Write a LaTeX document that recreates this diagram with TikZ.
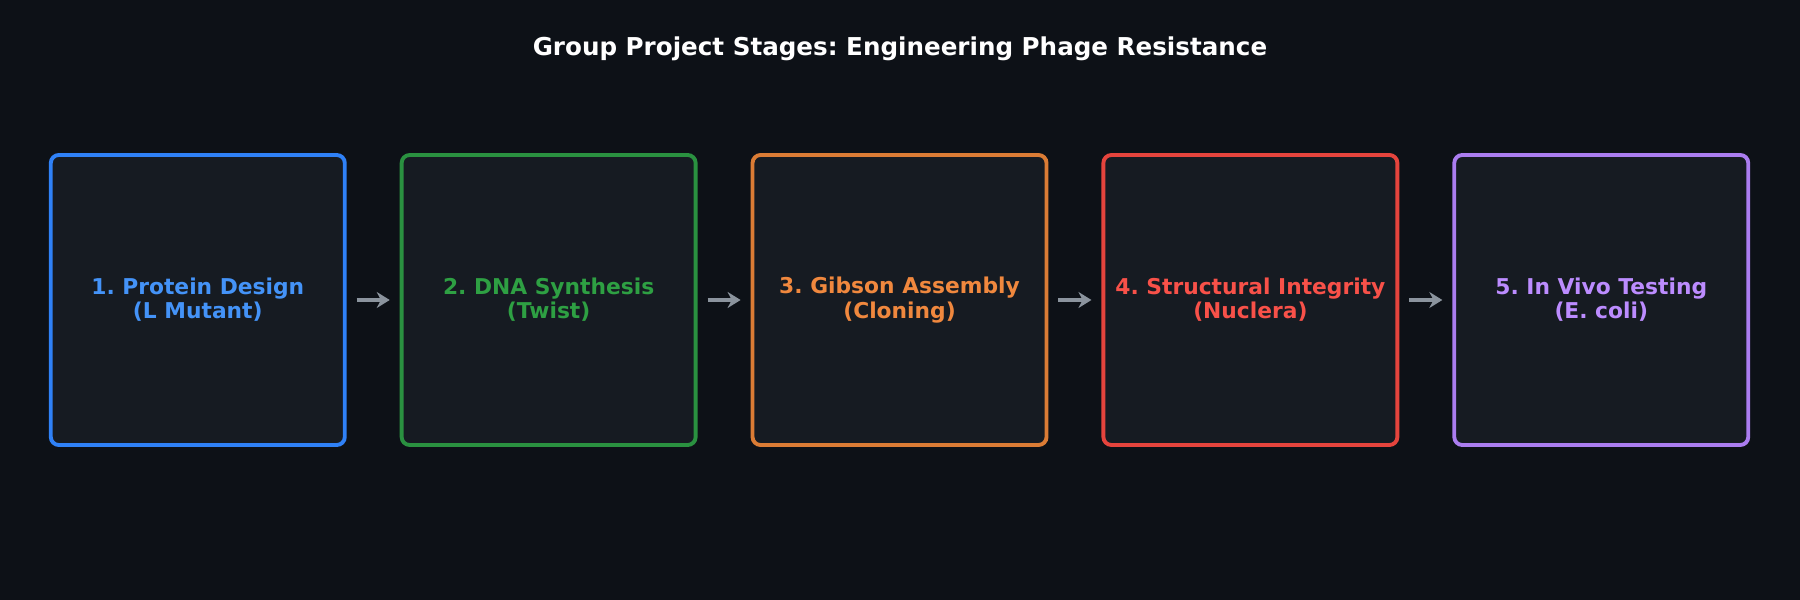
\documentclass[tikz,border=0pt]{standalone}
\usepackage{fontspec}
\setmainfont{DejaVu Sans}
\frenchspacing
\usetikzlibrary{positioning, arrows.meta}

\definecolor{bgcol}{HTML}{0D1117}
\definecolor{boxfill}{HTML}{161B22}
\definecolor{arrowcol}{HTML}{8B949E}
\definecolor{bluedraw}{HTML}{2F81F7}\definecolor{bluetext}{HTML}{4493F8}
\definecolor{greendraw}{HTML}{2A9140}\definecolor{greentext}{HTML}{2EA043}
\definecolor{orangedraw}{HTML}{DB7C35}\definecolor{orangetext}{HTML}{F0883E}
\definecolor{reddraw}{HTML}{E5443D}\definecolor{redtext}{HTML}{F85149}
\definecolor{purpledraw}{HTML}{AB7DF0}\definecolor{purpletext}{HTML}{BC8CFF}

\tikzset{
  stage/.style={draw=#1draw, text=#1text, fill=boxfill, line width=1.1pt,
    rounded corners=0.8mm, minimum width=29.4cm/10, minimum height=29cm/10,
    align=center, font=\bfseries\fontsize{6.2}{6.9}\selectfont},
  flow/.style={-{Stealth[length=1.3mm,width=1.6mm]}, draw=arrowcol, line width=1.1pt, shorten <=1mm, shorten >=1mm}
}

\begin{document}
\begin{tikzpicture}[node distance=5.3mm]
  \fill[bgcol] (0,0) rectangle (18,6);
  \useasboundingbox (0,0) rectangle (18,6);
  \node[text=white, font=\bfseries\fontsize{7}{8}\selectfont] (title) at (9,5.51) {Group Project Stages: Engineering Phage Resistance};

  \node[stage=blue] (design) at (1.978,3.0) {1. Protein Design\\(L Mutant)};
  \node[stage=green, right=of design] (synth) {2. DNA Synthesis\\(Twist)};
  \node[stage=orange, right=of synth] (gibson) {3. Gibson Assembly\\(Cloning)};
  \node[stage=red, right=of gibson] (struct) {4. Structural Integrity\\(Nuclera)};
  \node[stage=purple, right=of struct] (vivo) {5. In Vivo Testing\\(E. coli)};

  \draw[flow] (design) -- (synth);
  \draw[flow] (synth) -- (gibson);
  \draw[flow] (gibson) -- (struct);
  \draw[flow] (struct) -- (vivo);
\end{tikzpicture}
\end{document}
